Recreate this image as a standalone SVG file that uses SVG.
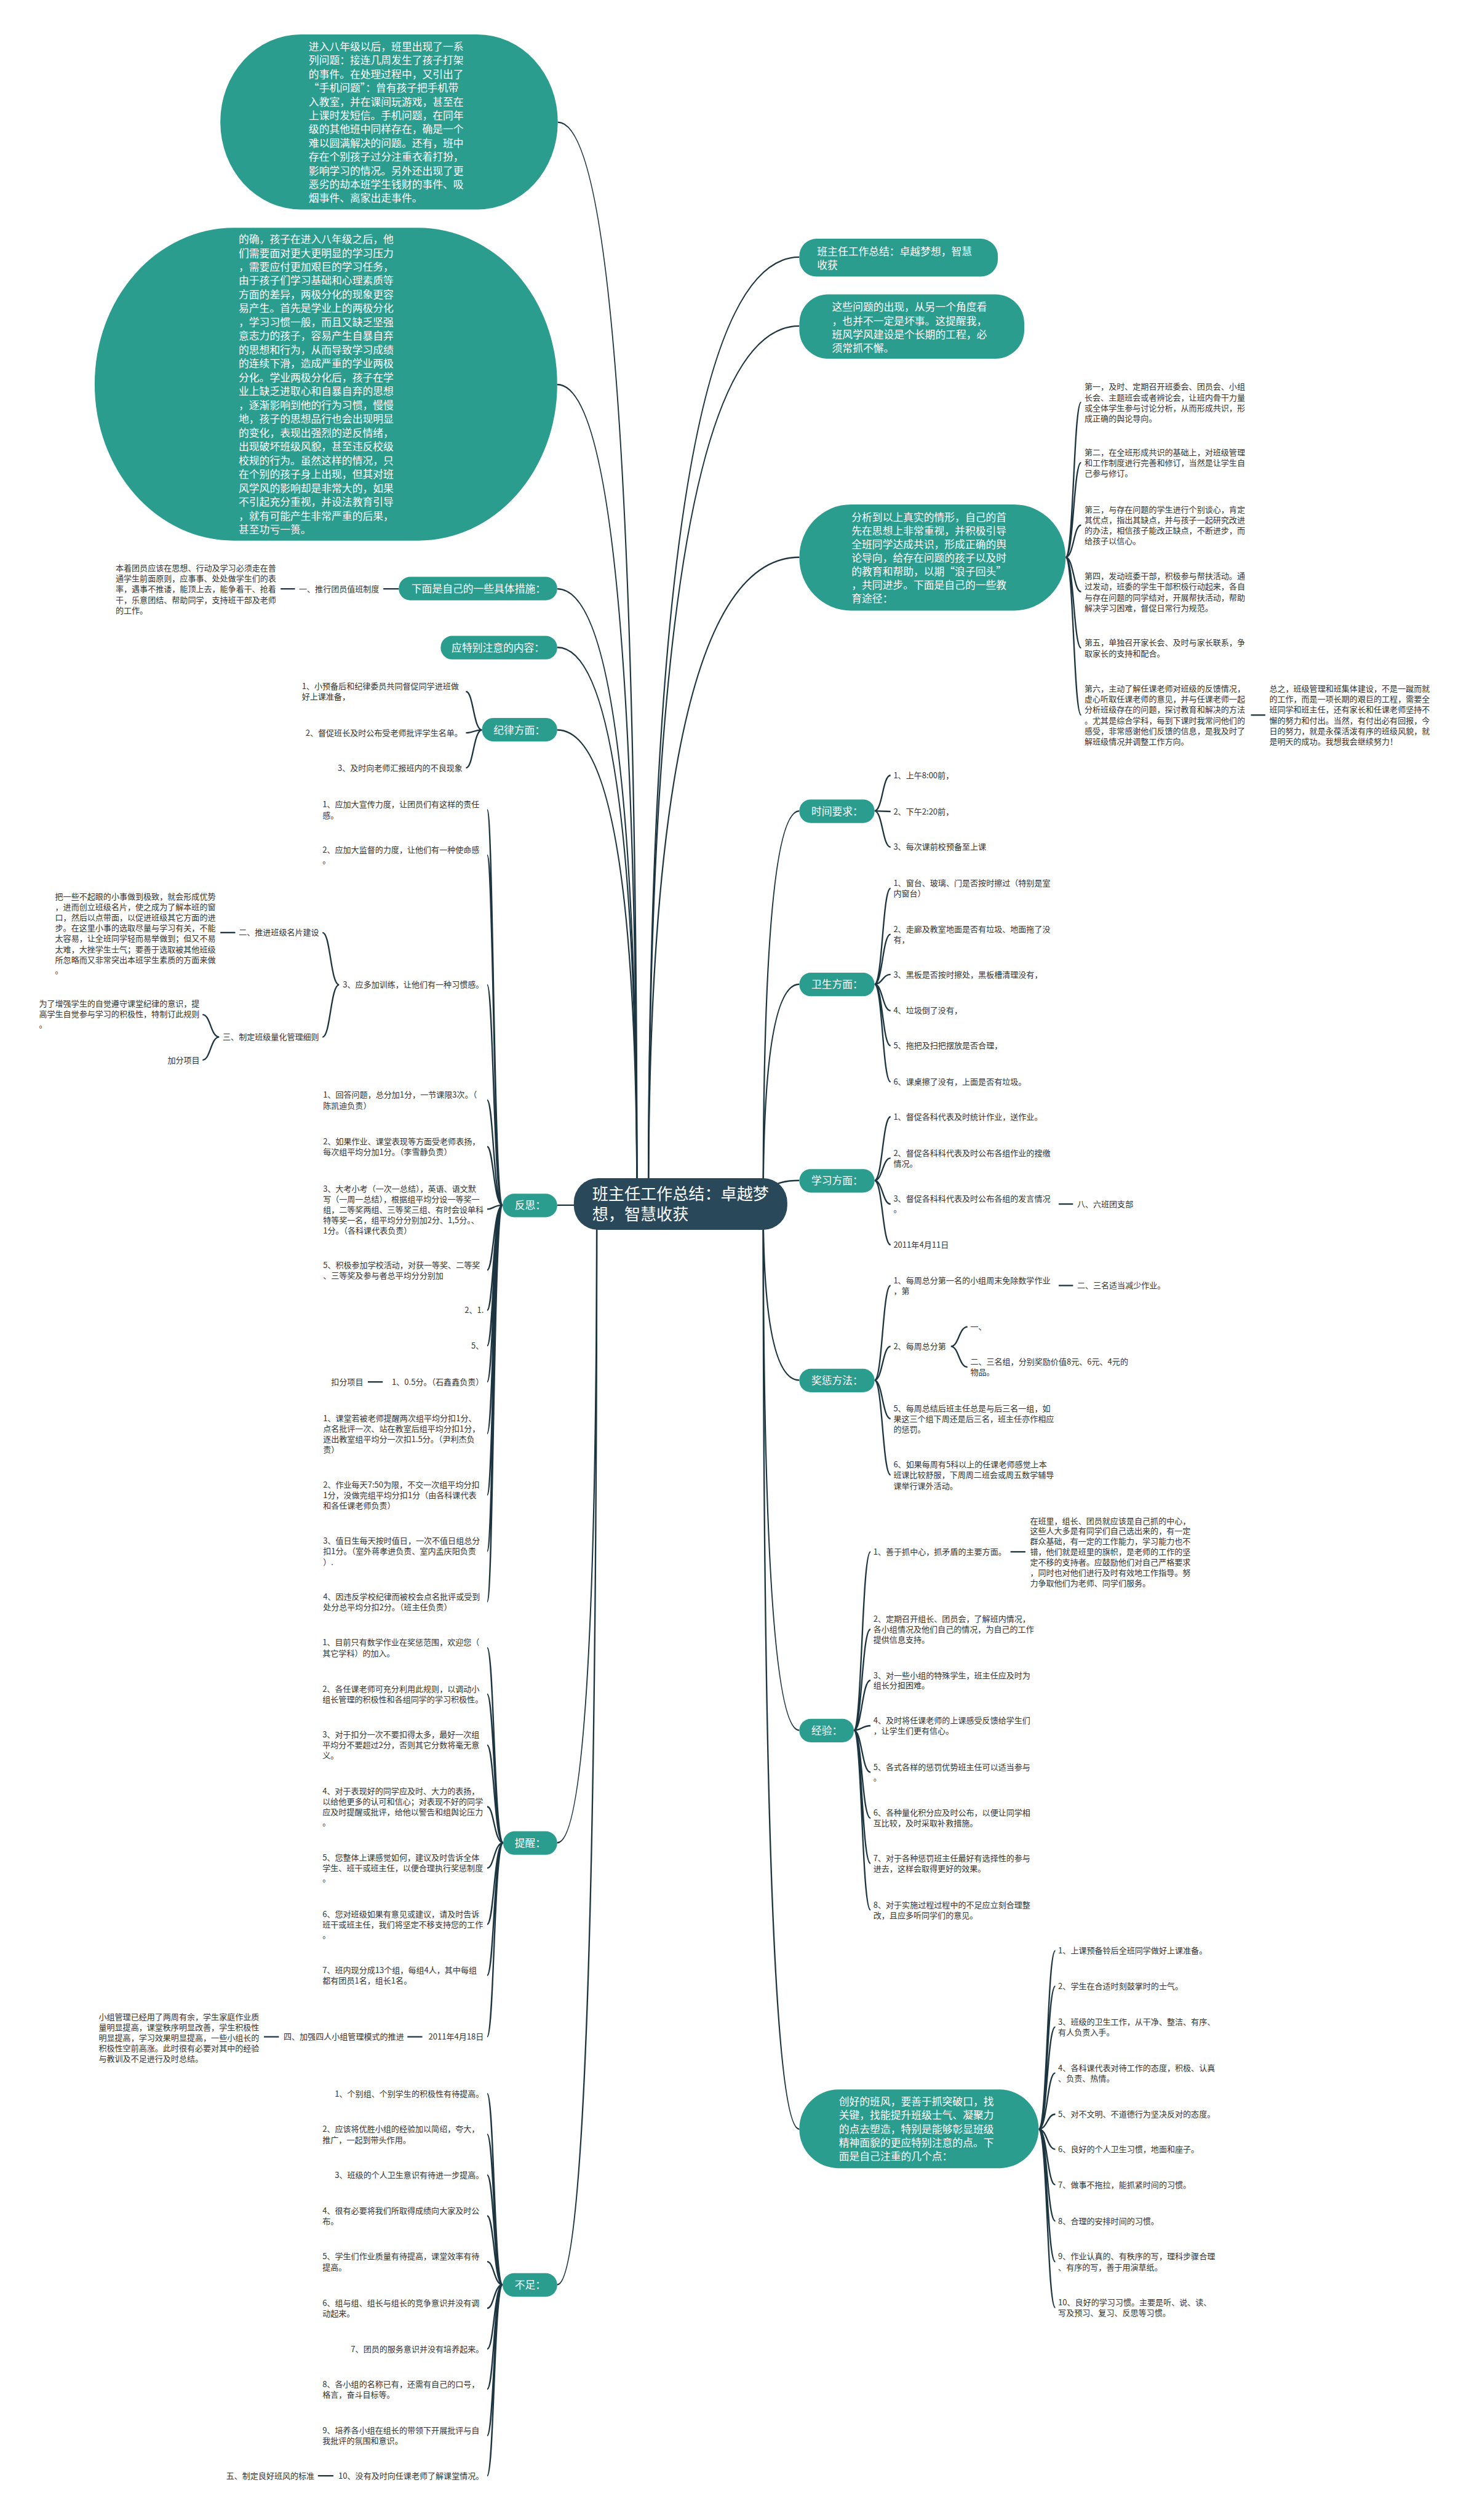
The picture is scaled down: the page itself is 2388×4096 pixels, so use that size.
<svg xmlns="http://www.w3.org/2000/svg" width="2388" height="4096" viewBox="0 0 2388 4096">
<style>
.n{fill:#2a9d8f}
.r{fill:#29485a}
.tw{font-family:"Noto Sans CJK SC","Noto Sans",sans-serif;fill:#ffffff;font-size:18px}
.tr{font-family:"Noto Sans CJK SC","Noto Sans",sans-serif;fill:#ffffff;font-size:28px}
.tl{font-family:"Noto Sans CJK SC","Noto Sans",sans-serif;fill:#333333;font-size:14px}
.e{text-anchor:end}
.c{fill:none;stroke:#1c3540;stroke-width:2.5}
</style>
<rect width="2388" height="4096" fill="#ffffff"/>
<g transform="scale(0.93281)">
<g id="connectors">
<path class="c" d="M972 213 Q1110 213 1110 2098"/>
<path class="c" d="M971 670 Q1110 670 1110 2098"/>
<path class="c" d="M971 1026 Q1110 1026 1110 2098"/>
<path class="c" d="M971 1128 Q1110 1128 1110 2098"/>
<path class="c" d="M971 1272 Q1110 1272 1110 2098"/>
<path class="c" d="M971 2100 L1040 2100"/>
<path class="c" d="M971 3211 Q1040 3211 1040 2098"/>
<path class="c" d="M971 3981 Q1040 3981 1040 2098"/>
<path class="c" d="M1393 448 Q1130 448 1130 2098"/>
<path class="c" d="M1393 568 Q1130 568 1130 2098"/>
<path class="c" d="M1393 971 Q1130 971 1130 2098"/>
<path class="c" d="M1393 1413 Q1330 1413 1330 2098"/>
<path class="c" d="M1393 1715 Q1330 1715 1330 2098"/>
<path class="c" d="M1393 2057 Q1330 2057 1330 2098"/>
<path class="c" d="M1393 2405 Q1330 2405 1330 2098"/>
<path class="c" d="M1393 3015 Q1330 3015 1330 2098"/>
<path class="c" d="M1393 3710 Q1330 3710 1330 2098"/>
<!-- left sub -->
<path class="c" d="M489 1026 L514 1026 M668 1026 L695 1026"/>
<path class="c" d="M840 1272 C825 1272 825 1205 812 1205 M840 1272 C825 1272 825 1277 812 1277 M840 1272 C825 1272 825 1338 812 1338"/>
<path class="c" d="M876 2100 C860 2100 860 1411 849 1411 M876 2100 C860 2100 860 1490 849 1490 M876 2100 C860 2100 860 1716 849 1716 M876 2100 C860 2100 860 1917 849 1917 M876 2100 C860 2100 860 1998 849 1998 M876 2100 C860 2100 860 2107 849 2107 M876 2100 C860 2100 860 2213 849 2213 M876 2100 C860 2100 860 2283 849 2283 M876 2100 C860 2100 860 2345 849 2345 M876 2100 C860 2100 860 2408 849 2408 M876 2100 C860 2100 860 2498 849 2498 M876 2100 C860 2100 860 2605 849 2605 M876 2100 C860 2100 860 2703 849 2703 M876 2100 C860 2100 860 2791 849 2791"/>
<path class="c" d="M591 1716 C576 1716 576 1625 562 1625 M591 1716 C576 1716 576 1807 562 1807"/>
<path class="c" d="M384 1625 L410 1625"/>
<path class="c" d="M382 1807 C367 1807 367 1768 353 1768 M382 1807 C367 1807 367 1847 353 1847"/>
<path class="c" d="M641 2408 L667 2408"/>
<path class="c" d="M877 3211 C861 3211 861 2871 849 2871 M877 3211 C861 3211 861 2952 849 2952 M877 3211 C861 3211 861 3041 849 3041 M877 3211 C861 3211 861 3148 849 3148 M877 3211 C861 3211 861 3255 849 3255 M877 3211 C861 3211 861 3353 849 3353 M877 3211 C861 3211 861 3442 849 3442 M877 3211 C861 3211 861 3549 849 3549"/>
<path class="c" d="M710 3549 L736 3549 M460 3549 L486 3549"/>
<path class="c" d="M876 3981 C861 3981 861 3648 849 3648 M876 3981 C861 3981 861 3719 849 3719 M876 3981 C861 3981 861 3790 849 3790 M876 3981 C861 3981 861 3861 849 3861 M876 3981 C861 3981 861 3941 849 3941 M876 3981 C861 3981 861 4022 849 4022 M876 3981 C861 3981 861 4093 849 4093 M876 3981 C861 3981 861 4163 849 4163 M876 3981 C861 3981 861 4244 849 4244 M876 3981 C861 3981 861 4314 849 4314"/>
<path class="c" d="M554 4314 L581 4314"/>
<!-- right sub -->
<path class="c" d="M1857 971 C1871 971 1871 701 1884 701 M1857 971 C1871 971 1871 806 1884 806 M1857 971 C1871 971 1871 915 1884 915 M1857 971 C1871 971 1871 1031 1884 1031 M1857 971 C1871 971 1871 1129 1884 1129 M1857 971 C1871 971 1871 1246 1884 1246"/>
<path class="c" d="M2180 1246 L2205 1246"/>
<path class="c" d="M1524 1413 C1538 1413 1538 1351 1552 1351 M1524 1413 L1552 1414 M1524 1413 C1538 1413 1538 1476 1552 1476"/>
<path class="c" d="M1524 1715 C1538 1715 1538 1548 1552 1548 M1524 1715 C1538 1715 1538 1628 1552 1628 M1524 1715 C1538 1715 1538 1698 1552 1698 M1524 1715 C1538 1715 1538 1761 1552 1761 M1524 1715 C1538 1715 1538 1822 1552 1822 M1524 1715 C1538 1715 1538 1885 1552 1885"/>
<path class="c" d="M1524 2057 C1538 2057 1538 1946 1552 1946 M1524 2057 C1538 2057 1538 2018 1552 2018 M1524 2057 C1538 2057 1538 2098 1552 2098 M1524 2057 C1538 2057 1538 2169 1552 2169"/>
<path class="c" d="M1845 2098 L1870 2098"/>
<path class="c" d="M1524 2405 C1538 2405 1538 2240 1552 2240 M1524 2405 C1538 2405 1538 2346 1552 2346 M1524 2405 C1538 2405 1538 2472 1552 2472 M1524 2405 C1538 2405 1538 2570 1552 2570"/>
<path class="c" d="M1845 2240 L1870 2240"/>
<path class="c" d="M1657 2346 C1671 2346 1671 2312 1686 2312 M1657 2346 C1671 2346 1671 2382 1686 2382"/>
<path class="c" d="M1488 3015 C1502 3015 1502 2704 1517 2704 M1488 3015 C1502 3015 1502 2839 1517 2839 M1488 3015 C1502 3015 1502 2928 1517 2928 M1488 3015 C1502 3015 1502 3007 1517 3007 M1488 3015 C1502 3015 1502 3088 1517 3088 M1488 3015 C1502 3015 1502 3168 1517 3168 M1488 3015 C1502 3015 1502 3247 1517 3247 M1488 3015 C1502 3015 1502 3328 1517 3328"/>
<path class="c" d="M1761 2704 L1787 2704"/>
<path class="c" d="M1810 3710 C1825 3710 1825 3399 1839 3399 M1810 3710 C1825 3710 1825 3461 1839 3461 M1810 3710 C1825 3710 1825 3532 1839 3532 M1810 3710 C1825 3710 1825 3612 1839 3612 M1810 3710 C1825 3710 1825 3684 1839 3684 M1810 3710 C1825 3710 1825 3745 1839 3745 M1810 3710 C1825 3710 1825 3807 1839 3807 M1810 3710 C1825 3710 1825 3870 1839 3870 M1810 3710 C1825 3710 1825 3941 1839 3941 M1810 3710 C1825 3710 1825 4021 1839 4021"/>
</g>

<g id="root">
<rect class="r" x="1000" y="2053" width="372" height="90" rx="42"/>
<text class="tr" x="1032" y="2090">班主任工作总结：卓越梦</text>
<text class="tr" x="1032" y="2126">想，智慧收获</text>
</g>

<g id="bubble-1">
<rect class="n" x="384" y="60" width="588" height="305" rx="140" ry="152"/>
<text class="tw" x="538" y="88"><tspan x="538">进入八年级以后，班里出现了一系</tspan><tspan x="538" dy="24">列问题：接连几周发生了孩子打架</tspan><tspan x="538" dy="24">的事件。在处理过程中，又引出了</tspan><tspan x="538" dy="24">“手机问题”：曾有孩子把手机带</tspan><tspan x="538" dy="24">入教室，并在课间玩游戏，甚至在</tspan><tspan x="538" dy="24">上课时发短信。手机问题，在同年</tspan><tspan x="538" dy="24">级的其他班中同样存在，确是一个</tspan><tspan x="538" dy="24">难以圆满解决的问题。还有，班中</tspan><tspan x="538" dy="24">存在个别孩子过分注重衣着打扮，</tspan><tspan x="538" dy="24">影响学习的情况。另外还出现了更</tspan><tspan x="538" dy="24">恶劣的劫本班学生钱财的事件、吸</tspan><tspan x="538" dy="24">烟事件、离家出走事件。</tspan></text>
</g>

<g id="bubble-2">
<rect class="n" x="165" y="397" width="806" height="545" rx="242" ry="272"/>
<text class="tw" x="416" y="423.5"><tspan x="416">的确，孩子在进入八年级之后，他</tspan><tspan x="416" dy="24.1">们需要面对更大更明显的学习压力</tspan><tspan x="416" dy="24.1">，需要应付更加艰巨的学习任务，</tspan><tspan x="416" dy="24.1">由于孩子们学习基础和心理素质等</tspan><tspan x="416" dy="24.1">方面的差异，两极分化的现象更容</tspan><tspan x="416" dy="24.1">易产生。首先是学业上的两极分化</tspan><tspan x="416" dy="24.1">，学习习惯一般，而且又缺乏坚强</tspan><tspan x="416" dy="24.1">意志力的孩子，容易产生自暴自弃</tspan><tspan x="416" dy="24.1">的思想和行为，从而导致学习成绩</tspan><tspan x="416" dy="24.1">的连续下滑，造成严重的学业两极</tspan><tspan x="416" dy="24.1">分化。学业两极分化后，孩子在学</tspan><tspan x="416" dy="24.1">业上缺乏进取心和自暴自弃的思想</tspan><tspan x="416" dy="24.1">，逐渐影响到他的行为习惯，慢慢</tspan><tspan x="416" dy="24.1">地，孩子的思想品行也会出现明显</tspan><tspan x="416" dy="24.1">的变化，表现出强烈的逆反情绪，</tspan><tspan x="416" dy="24.1">出现破坏班级风貌，甚至违反校级</tspan><tspan x="416" dy="24.1">校规的行为。虽然这样的情况，只</tspan><tspan x="416" dy="24.1">在个别的孩子身上出现，但其对班</tspan><tspan x="416" dy="24.1">风学风的影响却是非常大的，如果</tspan><tspan x="416" dy="24.1">不引起充分重视，并设法教育引导</tspan><tspan x="416" dy="24.1">，就有可能产生非常严重的后果，</tspan><tspan x="416" dy="24.1">甚至功亏一篑。</tspan></text>
</g>

<g id="measures">
<rect class="n" x="695" y="1005" width="276" height="41" rx="20"/>
<text class="tw" x="717" y="1032.5">下面是自己的一些具体措施：</text>
<text class="tl" x="521" y="1031">一、推行团员值班制度</text>
<text class="tl" x="201.5" y="995"><tspan x="201.5">本着团员应该在思想、行动及学习必须走在普</tspan><tspan x="201.5" dy="18.4">通学生前面原则，应事事、处处做学生们的表</tspan><tspan x="201.5" dy="18.4">率，遇事不推诿，能顶上去，能争着干、抢着</tspan><tspan x="201.5" dy="18.4">干，乐意团结、帮助同学，支持班干部及老师</tspan><tspan x="201.5" dy="18.4">的工作。</tspan></text>
</g>

<g id="special">
<rect class="n" x="768" y="1108" width="203" height="41" rx="20"/>
<text class="tw" x="787" y="1135">应特别注意的内容：</text>
</g>

<g id="discipline">
<rect class="n" x="840" y="1251" width="131" height="41" rx="20"/>
<text class="tw" x="860" y="1278.5">纪律方面：</text>
<text class="tl" x="526" y="1201"><tspan x="526">1、小预备后和纪律委员共同督促同学进班做</tspan><tspan x="526" dy="18.4">好上课准备，</tspan></text>
<text class="tl e" x="806" y="1282">2、督促班长及时公布受老师批评学生名单。</text>
<text class="tl e" x="806" y="1343">3、及时向老师汇报班内的不良现象</text>
</g>

<g id="reflection">
<rect class="n" x="876" y="2080" width="95" height="41" rx="20"/>
<text class="tw" x="897" y="2107">反思：</text>
<text class="tl" x="562" y="1407"><tspan x="562">1、应加大宣传力度，让团员们有这样的责任</tspan><tspan x="562" dy="18.4">感。</tspan></text>
<text class="tl" x="562" y="1486"><tspan x="562">2、应加大监督的力度，让他们有一种使命感</tspan><tspan x="562" dy="18.4">。</tspan></text>
<text class="tl e" x="843" y="1721">3、应多加训练，让他们有一种习惯感。</text>
<text class="tl e" x="556" y="1630">二、推进班级名片建设</text>
<text class="tl e" x="556" y="1812">三、制定班级量化管理细则</text>
<text class="tl" x="96" y="1567"><tspan x="96">把一些不起眼的小事做到极致，就会形成优势</tspan><tspan x="96" dy="18.4">，进而创立班级名片，使之成为了解本班的窗</tspan><tspan x="96" dy="18.4">口，然后以点带面，以促进班级其它方面的进</tspan><tspan x="96" dy="18.4">步。在这里小事的选取尽量与学习有关，不能</tspan><tspan x="96" dy="18.4">太容易，让全班同学轻而易举做到；但又不易</tspan><tspan x="96" dy="18.4">太难，大挫学生士气；要善于选取被其他班级</tspan><tspan x="96" dy="18.4">所忽略而又非常突出本班学生素质的方面来做</tspan><tspan x="96" dy="18.4">。</tspan></text>
<text class="tl" x="68" y="1754"><tspan x="68">为了增强学生的自觉遵守课堂纪律的意识，提</tspan><tspan x="68" dy="18.4">高学生自觉参与学习的积极性，特制订此规则</tspan><tspan x="68" dy="18.4">。</tspan></text>
<text class="tl e" x="348" y="1852">加分项目</text>
<text class="tl" x="563" y="1913"><tspan x="563">1、回答问题，总分加1分，一节课限3次。（</tspan><tspan x="563" dy="18.4">陈凯迪负责）</tspan></text>
<text class="tl" x="563" y="1994"><tspan x="563">2、如果作业、课堂表现等方面受老师表扬，</tspan><tspan x="563" dy="18.4">每次组平均分加1分。（李雪静负责）</tspan></text>
<text class="tl" x="563" y="2076"><tspan x="563">3、大考小考（一次一总结），英语、语文默</tspan><tspan x="563" dy="18.4">写（一周一总结），根据组平均分设一等奖一</tspan><tspan x="563" dy="18.4">组，二等奖两组、三等奖三组、有时会设单科</tspan><tspan x="563" dy="18.4">特等奖一名，组平均分分别加2分、1,5分。、</tspan><tspan x="563" dy="18.4">1分。（各科课代表负责）</tspan></text>
<text class="tl" x="563" y="2209"><tspan x="563">5、积极参加学校活动，对获一等奖、二等奖</tspan><tspan x="563" dy="18.4">、三等奖及参与者总平均分分别加</tspan></text>
<text class="tl e" x="843" y="2288">2、1.</text>
<text class="tl e" x="843" y="2350">5、</text>
<text class="tl e" x="843" y="2413">1、0.5分。（石鑫鑫负责）</text>
<text class="tl e" x="633" y="2413">扣分项目</text>
<text class="tl" x="563" y="2476"><tspan x="563">1、课堂若被老师提醒两次组平均分扣1分、</tspan><tspan x="563" dy="18.4">点名批评一次、站在教室后组平均分扣1分，</tspan><tspan x="563" dy="18.4">逐出教室组平均分一次扣1.5分。（尹利杰负</tspan><tspan x="563" dy="18.4">责）</tspan></text>
<text class="tl" x="563" y="2592"><tspan x="563">2、作业每天7:50为限，不交一次组平均分扣</tspan><tspan x="563" dy="18.4">1分，没做完组平均分扣1分（由各科课代表</tspan><tspan x="563" dy="18.4">和各任课老师负责）</tspan></text>
<text class="tl" x="563" y="2690"><tspan x="563">3、值日生每天按时值日，一次不值日组总分</tspan><tspan x="563" dy="18.4">扣1分。（室外蒋孝进负责、室内孟庆阳负责</tspan><tspan x="563" dy="18.4">）.</tspan></text>
<text class="tl" x="563" y="2787"><tspan x="563">4、因违反学校纪律而被校会点名批评或受到</tspan><tspan x="563" dy="18.4">处分总平均分扣2分。（班主任负责）</tspan></text>
</g>

<g id="reminder">
<rect class="n" x="877" y="3191" width="94" height="41" rx="20"/>
<text class="tw" x="897" y="3218">提醒：</text>
<text class="tl" x="562" y="2867"><tspan x="562">1、目前只有数学作业在奖惩范围，欢迎您（</tspan><tspan x="562" dy="18.4">其它学科）的加入。</tspan></text>
<text class="tl" x="562" y="2948"><tspan x="562">2、各任课老师可充分利用此规则，以调动小</tspan><tspan x="562" dy="18.4">组长管理的积极性和各组同学的学习积极性。</tspan></text>
<text class="tl" x="562" y="3027"><tspan x="562">3、对于扣分一次不要扣得太多，最好一次组</tspan><tspan x="562" dy="18.4">平均分不要超过2分，否则其它分数将毫无意</tspan><tspan x="562" dy="18.4">义。</tspan></text>
<text class="tl" x="562" y="3126"><tspan x="562">4、对于表现好的同学应及时、大力的表扬，</tspan><tspan x="562" dy="18.4">以给他更多的认可和信心；对表现不好的同学</tspan><tspan x="562" dy="18.4">应及时提醒或批评，给他以警告和组舆论压力</tspan><tspan x="562" dy="18.4">。</tspan></text>
<text class="tl" x="562" y="3242"><tspan x="562">5、您整体上课感觉如何，建议及时告诉全体</tspan><tspan x="562" dy="18.4">学生、班干或班主任，以便合理执行奖惩制度</tspan><tspan x="562" dy="18.4">。</tspan></text>
<text class="tl" x="562" y="3340"><tspan x="562">6、您对班级如果有意见或建议，请及时告诉</tspan><tspan x="562" dy="18.4">班干或班主任，我们将坚定不移支持您的工作</tspan><tspan x="562" dy="18.4">。</tspan></text>
<text class="tl" x="562" y="3438"><tspan x="562">7、班内现分成13个组，每组4人，其中每组</tspan><tspan x="562" dy="18.4">都有团员1名，组长1名。</tspan></text>
<text class="tl e" x="843" y="3554">2011年4月18日</text>
<text class="tl e" x="704" y="3554">四、加强四人小组管理模式的推进</text>
<text class="tl" x="172" y="3519"><tspan x="172">小组管理已经用了两周有余，学生家庭作业质</tspan><tspan x="172" dy="18.4">量明显提高，课堂秩序明显改善，学生积极性</tspan><tspan x="172" dy="18.4">明显提高，学习效果明显提高，一些小组长的</tspan><tspan x="172" dy="18.4">积极性空前高涨。此时很有必要对其中的经验</tspan><tspan x="172" dy="18.4">与教训及不足进行及时总结。</tspan></text>
</g>

<g id="shortcomings">
<rect class="n" x="876" y="3961" width="95" height="41" rx="20"/>
<text class="tw" x="897" y="3988">不足：</text>
<text class="tl e" x="843" y="3653">1、个别组、个别学生的积极性有待提高。</text>
<text class="tl" x="562" y="3715"><tspan x="562">2、应该将优胜小组的经验加以简绍，夸大，</tspan><tspan x="562" dy="18.4">推广，一起到带头作用。</tspan></text>
<text class="tl e" x="843" y="3795">3、班级的个人卫生意识有待进一步提高。</text>
<text class="tl" x="562" y="3857"><tspan x="562">4、很有必要将我们所取得成绩向大家及时公</tspan><tspan x="562" dy="18.4">布。</tspan></text>
<text class="tl" x="562" y="3937"><tspan x="562">5、学生们作业质量有待提高，课堂效率有待</tspan><tspan x="562" dy="18.4">提高。</tspan></text>
<text class="tl" x="562" y="4018"><tspan x="562">6、组与组、组长与组长的竞争意识并没有调</tspan><tspan x="562" dy="18.4">动起来。</tspan></text>
<text class="tl e" x="843" y="4098">7、团员的服务意识并没有培养起来。</text>
<text class="tl" x="562" y="4159"><tspan x="562">8、各小组的名称已有，还需有自己的口号，</tspan><tspan x="562" dy="18.4">格言，奋斗目标等。</tspan></text>
<text class="tl" x="562" y="4240"><tspan x="562">9、培养各小组在组长的带领下开展批评与自</tspan><tspan x="562" dy="18.4">我批评的氛围和意识。</tspan></text>
<text class="tl e" x="843" y="4319">10、没有及时向任课老师了解课堂情况。</text>
<text class="tl e" x="548" y="4319">五、制定良好班风的标准</text>
</g>

<g id="title-node">
<rect class="n" x="1393" y="416" width="346" height="66" rx="30"/>
<text class="tw" x="1424" y="444.5"><tspan x="1424">班主任工作总结：卓越梦想，智慧</tspan><tspan x="1424" dy="24">收获</tspan></text>
</g>

<g id="problems-node">
<rect class="n" x="1393" y="513" width="392" height="112" rx="50"/>
<text class="tw" x="1450" y="541.5"><tspan x="1450">这些问题的出现，从另一个角度看</tspan><tspan x="1450" dy="24">，也并不一定是坏事。这提醒我，</tspan><tspan x="1450" dy="24">班风学风建设是个长期的工程，必</tspan><tspan x="1450" dy="24">须常抓不懈。</tspan></text>
</g>

<g id="analysis">
<rect class="n" x="1393" y="879" width="464" height="185" rx="90" ry="92"/>
<text class="tw" x="1484" y="907.5"><tspan x="1484">分析到以上真实的情形，自己的首</tspan><tspan x="1484" dy="23.7">先在思想上非常重视，并积极引导</tspan><tspan x="1484" dy="23.7">全班同学达成共识，形成正确的舆</tspan><tspan x="1484" dy="23.7">论导向，给存在问题的孩子以及时</tspan><tspan x="1484" dy="23.7">的教育和帮助，以期“浪子回头”</tspan><tspan x="1484" dy="23.7">，共同进步。下面是自己的一些教</tspan><tspan x="1484" dy="23.7">育途径：</tspan></text>
<text class="tl" x="1890" y="679"><tspan x="1890">第一，及时、定期召开班委会、团员会、小组</tspan><tspan x="1890" dy="18.4">长会、主题班会或者辨论会，让班内骨干力量</tspan><tspan x="1890" dy="18.4">或全体学生参与讨论分析，从而形成共识，形</tspan><tspan x="1890" dy="18.4">成正确的舆论导向。</tspan></text>
<text class="tl" x="1890" y="793"><tspan x="1890">第二，在全班形成共识的基础上，对班级管理</tspan><tspan x="1890" dy="18.4">和工作制度进行完善和修订，当然是让学生自</tspan><tspan x="1890" dy="18.4">己参与修订。</tspan></text>
<text class="tl" x="1890" y="892.5"><tspan x="1890">第三，与存在问题的学生进行个别谈心，肯定</tspan><tspan x="1890" dy="18.4">其优点，指出其缺点，并与孩子一起研究改进</tspan><tspan x="1890" dy="18.4">的办法，相信孩子能改正缺点，不断进步，而</tspan><tspan x="1890" dy="18.4">给孩子以信心。</tspan></text>
<text class="tl" x="1890" y="1009"><tspan x="1890">第四，发动班委干部，积极参与帮扶活动。通</tspan><tspan x="1890" dy="18.4">过发动，班委的学生干部积极行动起来，各自</tspan><tspan x="1890" dy="18.4">与存在问题的同学结对，开展帮扶活动，帮助</tspan><tspan x="1890" dy="18.4">解决学习困难，督促日常行为规范。</tspan></text>
<text class="tl" x="1890" y="1125"><tspan x="1890">第五，单独召开家长会、及时与家长联系，争</tspan><tspan x="1890" dy="18.4">取家长的支持和配合。</tspan></text>
<text class="tl" x="1890" y="1205"><tspan x="1890">第六，主动了解任课老师对班级的反馈情况，</tspan><tspan x="1890" dy="18.4">虚心听取任课老师的意见，并与任课老师一起</tspan><tspan x="1890" dy="18.4">分析班级存在的问题，探讨教育和解决的方法</tspan><tspan x="1890" dy="18.4">。尤其是综合学科，每到下课时我常问他们的</tspan><tspan x="1890" dy="18.4">感受，非常感谢他们反馈的信息，是我及时了</tspan><tspan x="1890" dy="18.4">解班级情况并调整工作方向。</tspan></text>
<text class="tl" x="2212" y="1205"><tspan x="2212">总之，班级管理和班集体建设，不是一蹴而就</tspan><tspan x="2212" dy="18.4">的工作，而是一项长期的艰巨的工程，需要全</tspan><tspan x="2212" dy="18.4">班同学和班主任，还有家长和任课老师坚持不</tspan><tspan x="2212" dy="18.4">懈的努力和付出。当然，有付出必有回报，今</tspan><tspan x="2212" dy="18.4">日的努力，就是永葆活泼有序的班级风貌，就</tspan><tspan x="2212" dy="18.4">是明天的成功。我想我会继续努力！</tspan></text>
</g>

<g id="time">
<rect class="n" x="1393" y="1393" width="131" height="41" rx="20"/>
<text class="tw" x="1414" y="1420">时间要求：</text>
<text class="tl" x="1557" y="1356">1、上午8:00前，</text>
<text class="tl" x="1557" y="1419">2、下午2:20前，</text>
<text class="tl" x="1557" y="1481">3、每次课前校预备至上课</text>
</g>

<g id="hygiene">
<rect class="n" x="1393" y="1695" width="131" height="41" rx="20"/>
<text class="tw" x="1414" y="1722">卫生方面：</text>
<text class="tl" x="1557" y="1544"><tspan x="1557">1、窗台、玻璃、门是否按时擦过（特别是室</tspan><tspan x="1557" dy="18.4">内窗台）</tspan></text>
<text class="tl" x="1557" y="1624"><tspan x="1557">2、走廊及教室地面是否有垃圾、地面拖了没</tspan><tspan x="1557" dy="18.4">有，</tspan></text>
<text class="tl" x="1557" y="1703">3、黑板是否按时擦处，黑板槽清理没有，</text>
<text class="tl" x="1557" y="1766">4、垃圾倒了没有，</text>
<text class="tl" x="1557" y="1827">5、拖把及扫把摆放是否合理，</text>
<text class="tl" x="1557" y="1890">6、课桌擦了没有，上面是否有垃圾。</text>
</g>

<g id="study">
<rect class="n" x="1393" y="2037" width="131" height="41" rx="20"/>
<text class="tw" x="1414" y="2064">学习方面：</text>
<text class="tl" x="1557" y="1951">1、督促各科代表及时统计作业，送作业。</text>
<text class="tl" x="1557" y="2014"><tspan x="1557">2、督促各科科代表及时公布各组作业的搜缴</tspan><tspan x="1557" dy="18.4">情况。</tspan></text>
<text class="tl" x="1557" y="2094"><tspan x="1557">3、督促各科科代表及时公布各组的发言情况</tspan><tspan x="1557" dy="18.4">。</tspan></text>
<text class="tl" x="1877" y="2103">八、六班团支部</text>
<text class="tl" x="1557" y="2174">2011年4月11日</text>
</g>

<g id="reward">
<rect class="n" x="1393" y="2385" width="131" height="41" rx="20"/>
<text class="tw" x="1414" y="2412">奖惩方法：</text>
<text class="tl" x="1557" y="2236"><tspan x="1557">1、每周总分第一名的小组周末免除数学作业</tspan><tspan x="1557" dy="18.4">，第</tspan></text>
<text class="tl" x="1877" y="2245">二、三名适当减少作业。</text>
<text class="tl" x="1557" y="2351">2、每周总分第</text>
<text class="tl" x="1691" y="2317">一、</text>
<text class="tl" x="1691" y="2378"><tspan x="1691">二、三名组，分别奖励价值8元、6元、4元的</tspan><tspan x="1691" dy="18.4">物品。</tspan></text>
<text class="tl" x="1557" y="2459"><tspan x="1557">5、每周总结后班主任总是与后三名一组，如</tspan><tspan x="1557" dy="18.4">果这三个组下周还是后三名，班主任亦作相应</tspan><tspan x="1557" dy="18.4">的惩罚。</tspan></text>
<text class="tl" x="1557" y="2557"><tspan x="1557">6、如果每周有5科以上的任课老师感觉上本</tspan><tspan x="1557" dy="18.4">班课比较舒服，下周周二班会或周五数学辅导</tspan><tspan x="1557" dy="18.4">课举行课外活动。</tspan></text>
</g>

<g id="experience">
<rect class="n" x="1393" y="2995" width="95" height="41" rx="20"/>
<text class="tw" x="1414" y="3022">经验：</text>
<text class="tl" x="1522" y="2709">1、善于抓中心，抓矛盾的主要方面。</text>
<text class="tl" x="1795" y="2655"><tspan x="1795">在班里，组长、团员就应该是自己抓的中心，</tspan><tspan x="1795" dy="18.1">这些人大多是有同学们自己选出来的，有一定</tspan><tspan x="1795" dy="18.1">群众基础，有一定的工作能力，学习能力也不</tspan><tspan x="1795" dy="18.1">错，他们就是班里的旗帜，是老师的工作的坚</tspan><tspan x="1795" dy="18.1">定不移的支持者。应鼓励他们对自己严格要求</tspan><tspan x="1795" dy="18.1">，同时也对他们进行及时有效地工作指导。努</tspan><tspan x="1795" dy="18.1">力争取他们为老师、同学们服务。</tspan></text>
<text class="tl" x="1522" y="2826"><tspan x="1522">2、定期召开组长、团员会，了解班内情况，</tspan><tspan x="1522" dy="18.1">各小组情况及他们自己的情况，为自己的工作</tspan><tspan x="1522" dy="18.1">提供信息支持。</tspan></text>
<text class="tl" x="1522" y="2924"><tspan x="1522">3、对一些小组的特殊学生，班主任应及时为</tspan><tspan x="1522" dy="18.1">组长分担困难。</tspan></text>
<text class="tl" x="1522" y="3003"><tspan x="1522">4、及时将任课老师的上课感受反馈给学生们</tspan><tspan x="1522" dy="18.1">，让学生们更有信心。</tspan></text>
<text class="tl" x="1522" y="3084"><tspan x="1522">5、各式各样的惩罚优势班主任可以适当参与</tspan><tspan x="1522" dy="18.1">。</tspan></text>
<text class="tl" x="1522" y="3164"><tspan x="1522">6、各种量化积分应及时公布，以便让同学相</tspan><tspan x="1522" dy="18.1">互比较，及时采取补救措施。</tspan></text>
<text class="tl" x="1522" y="3243"><tspan x="1522">7、对于各种惩罚班主任最好有选择性的参与</tspan><tspan x="1522" dy="18.1">进去，这样会取得更好的效果。</tspan></text>
<text class="tl" x="1522" y="3324"><tspan x="1522">8、对于实施过程过程中的不足应立刻合理整</tspan><tspan x="1522" dy="18.1">改，且应多听同学们的意见。</tspan></text>
</g>

<g id="class-style">
<rect class="n" x="1393" y="3641" width="417" height="137" rx="68"/>
<text class="tw" x="1462" y="3668.5"><tspan x="1462">创好的班风，要善于抓突破口，找</tspan><tspan x="1462" dy="23.9">关键，找能提升班级士气、凝聚力</tspan><tspan x="1462" dy="23.9">的点去塑造，特别是能够彰显班级</tspan><tspan x="1462" dy="23.9">精神面貌的更应特别注意的点。下</tspan><tspan x="1462" dy="23.9">面是自己注重的几个点：</tspan></text>
<text class="tl" x="1844" y="3404">1、上课预备铃后全班同学做好上课准备。</text>
<text class="tl" x="1844" y="3466">2、学生在合适时刻鼓掌时的士气。</text>
<text class="tl" x="1844" y="3528"><tspan x="1844">3、班级的卫生工作，从干净、整洁、有序、</tspan><tspan x="1844" dy="18.4">有人负责入手。</tspan></text>
<text class="tl" x="1844" y="3608"><tspan x="1844">4、各科课代表对待工作的态度，积极、认真</tspan><tspan x="1844" dy="18.4">、负责、热情。</tspan></text>
<text class="tl" x="1844" y="3689">5、对不文明、不道德行为坚决反对的态度。</text>
<text class="tl" x="1844" y="3750">6、良好的个人卫生习惯，地面和座子。</text>
<text class="tl" x="1844" y="3812">7、做事不拖拉，能抓紧时间的习惯。</text>
<text class="tl" x="1844" y="3875">8、合理的安排时间的习惯。</text>
<text class="tl" x="1844" y="3937"><tspan x="1844">9、作业认真的、有秩序的写，理科步骤合理</tspan><tspan x="1844" dy="18.4">、有序的写，善于用演草纸。</tspan></text>
<text class="tl" x="1844" y="4017"><tspan x="1844">10、良好的学习习惯。主要是听、说、读、</tspan><tspan x="1844" dy="18.4">写及预习、复习、反思等习惯。</tspan></text>
</g>
</g>
</svg>
